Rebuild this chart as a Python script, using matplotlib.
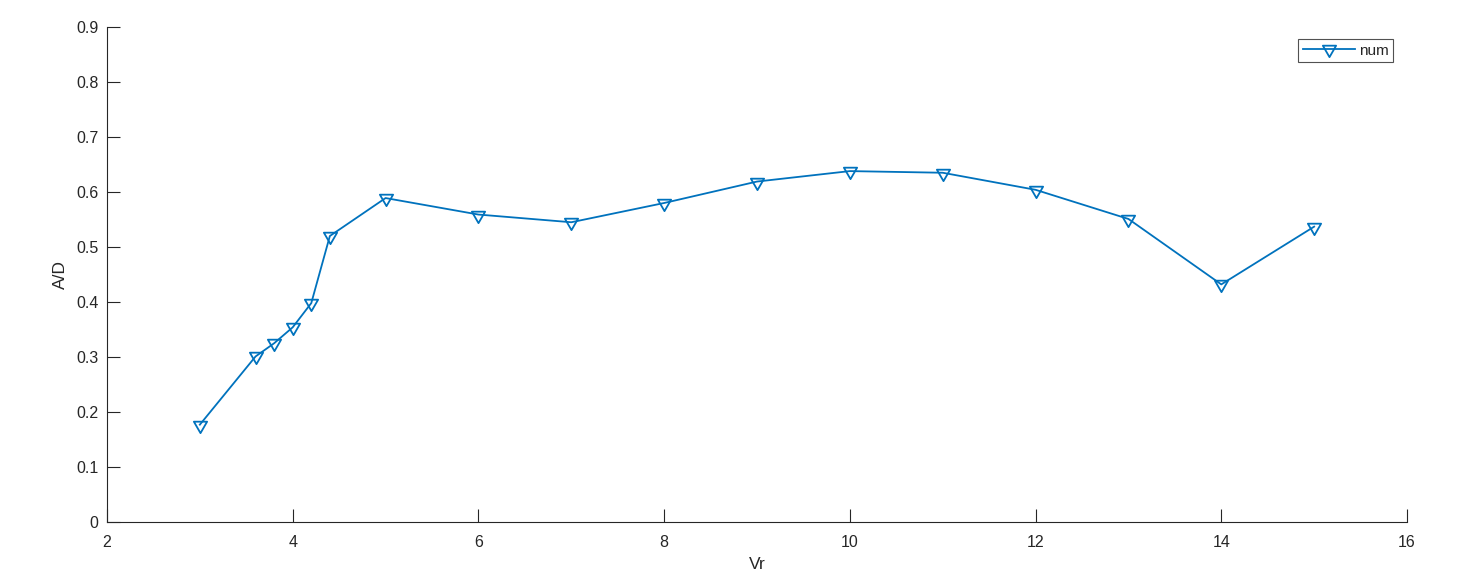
import matplotlib
matplotlib.use("Agg")
import matplotlib.pyplot as plt
from matplotlib.path import Path

vr = [3.0, 3.6, 3.8, 4.0, 4.2, 4.4, 5, 6, 7, 8, 9, 10, 11, 12, 13, 14, 15]
a_over_d = [0.177, 0.301, 0.325, 0.354, 0.398, 0.520, 0.589, 0.559, 0.545,
            0.580, 0.619, 0.638, 0.635, 0.604, 0.551, 0.432, 0.537]
series_label = "num"
x_ticks = [2, 4, 6, 8, 10, 12, 14, 16]
y_ticks = [0, 0.1, 0.2, 0.3, 0.4, 0.5, 0.6, 0.7, 0.8, 0.9]

plt.rcParams['font.family'] = ['Liberation Sans', 'DejaVu Sans']
TXT = '#262626'
BLUE = '#0072BD'

# MATLAB-like equilateral downward triangle centred on its centroid
tri = Path([(-1.0, 0.577), (1.0, 0.577), (0.0, -1.155), (-1.0, 0.577)],
           [Path.MOVETO, Path.LINETO, Path.LINETO, Path.CLOSEPOLY])

fig = plt.figure(figsize=(14.62, 5.79), dpi=100)
ax = fig.add_axes([107/1462, 1-522/579, 1300/1462, 495/579])

ax.plot(vr, a_over_d, color=BLUE, lw=1.3, marker=tri, markersize=11,
        markerfacecolor='none', markeredgecolor=BLUE, markeredgewidth=1.3,
        label=series_label)

ax.set_xlim(2, 16)
ax.set_ylim(0, 0.9)
ax.set_xticks(x_ticks)
ax.set_xticklabels([str(t) for t in x_ticks])
ax.set_yticks(y_ticks)
ax.set_yticklabels(['0'] + [f"{t:.1f}" for t in y_ticks[1:]])

for s in ['top', 'right']:
    ax.spines[s].set_visible(False)
for s in ['left', 'bottom']:
    ax.spines[s].set_color(TXT)
    ax.spines[s].set_linewidth(0.8)

ax.tick_params(direction='in', length=9.4, width=0.8, colors=TXT,
               labelsize=11.5, labelcolor=TXT)
ax.tick_params(axis='x', pad=9.5)
ax.tick_params(axis='y', pad=6)

ax.set_xlabel('Vr', fontsize=12.5, color=TXT, labelpad=5)
ax.set_ylabel('A/D', fontsize=12.5, color=TXT, labelpad=6)

leg = ax.legend(loc='upper right', bbox_to_anchor=(1393/1462, 1-39/579),
                bbox_transform=fig.transFigure, frameon=True, fancybox=False,
                fontsize=11, handlelength=3.4, borderpad=0.3,
                handletextpad=0.25, borderaxespad=0)
leg.get_frame().set_edgecolor(TXT)
leg.get_frame().set_linewidth(0.8)
for t in leg.get_texts():
    t.set_color(TXT)

fig.savefig('out.png', dpi=100)
